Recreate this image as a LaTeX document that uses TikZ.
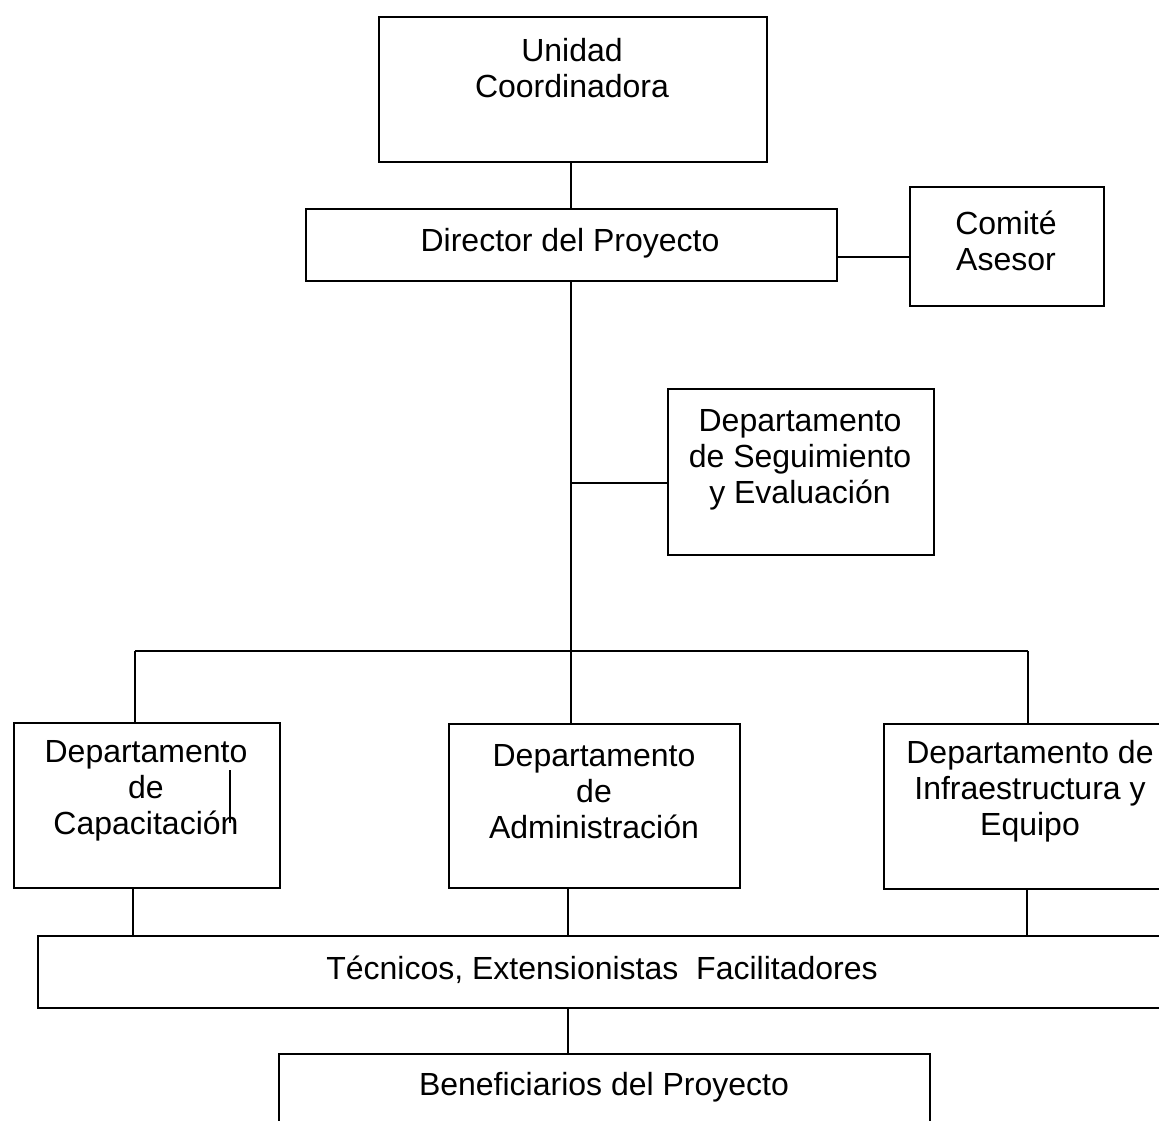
\documentclass[tikz,border=0pt]{standalone}
\usepackage{fontspec}
\setmainfont{Liberation Sans}
\begin{document}
\begin{tikzpicture}[x=1pt,y=-1pt,
  box/.style={draw=black, line width=1.8pt, inner sep=0pt, anchor=north west},
  txt/.style={align=center, inner sep=0pt, font=\fontsize{32}{36}\selectfont},
  conn/.style={draw=black, line width=1.8pt}]
\useasboundingbox (0,0) rectangle (1159,1120);
\fill[white] (0,0) rectangle (1159,1120);
\clip (0,0) rectangle (1159,1120);

% boxes
\node[box, minimum width=388pt, minimum height=145pt] (unidad) at (378,16) {};
\node[box, minimum width=531pt, minimum height=72pt] (director) at (305,208) {};
\node[box, minimum width=194pt, minimum height=119pt] (comite) at (909,186) {};
\node[box, minimum width=266pt, minimum height=166pt] (seg) at (667,388) {};
\node[box, minimum width=266pt, minimum height=165pt] (cap) at (13,722) {};
\node[box, minimum width=291pt, minimum height=164pt] (admin) at (448,723) {};
\node[box, minimum width=294pt, minimum height=165pt] (infra) at (883,723) {};
\node[box, minimum width=1130pt, minimum height=72pt] (tec) at (37,935) {};
\node[box, minimum width=651pt, minimum height=120pt] (benef) at (278,1053) {};

% texts
\node[txt] (unidadT) at (572,68) {Unidad\\Coordinadora};
\node[txt] (directorT) at (570,243) {Director del Proyecto};
\node[txt] (comiteT) at (1006,241) {Comité\\Asesor};
\node[txt] (segT) at (800,460) {Departamento\\de Seguimiento\\y Evaluación};
\node[txt] (capT) at (146,791) {Departamento\\de\\Capacitación};
\node[txt] (adminT) at (594,792) {Departamento\\de\\Administración};
\node[txt] (infraT) at (1030,791) {Departamento de\\Infraestructura y\\Equipo};
\node[txt] (tecT) at (602,970) {Técnicos, Extensionistas~ Facilitadores};
\node[txt] (benefT) at (604,1087) {Beneficiarios del Proyecto};

% junction coordinates
\coordinate (cj) at (872,257);
\coordinate (segj) at (571,483);
\coordinate (busL) at (135,651);
\coordinate (busM) at (571,651);
\coordinate (busR) at (1028,651);
\coordinate (dL) at (133,900);
\coordinate (dM) at (568,900);
\coordinate (dR) at (1027,900);

% connectors
\draw[conn] (unidad.south -| busM) -- (director.north -| busM);
\draw[conn] (cj -| director.east) -- (cj -| comite.west);
\draw[conn] (director.south -| busM) -- (admin.north -| busM);
\draw[conn] (segj) -- (segj -| seg.west);
\draw[conn] (busL) -- (busR);
\draw[conn] (busL) -- (busL |- cap.north);
\draw[conn] (busR) -- (busR |- infra.north);
\draw[conn] (cap.south -| dL) -- (tec.north -| dL);
\draw[conn] (admin.south -| dM) -- (tec.north -| dM);
\draw[conn] (infra.south -| dR) -- (tec.north -| dR);
\draw[conn] (tec.south -| dM) -- (benef.north -| dM);

% stray mark inside Capacitacion box
\draw[line width=1.2pt] (230,770) -- (230,823);
\end{tikzpicture}
\end{document}
